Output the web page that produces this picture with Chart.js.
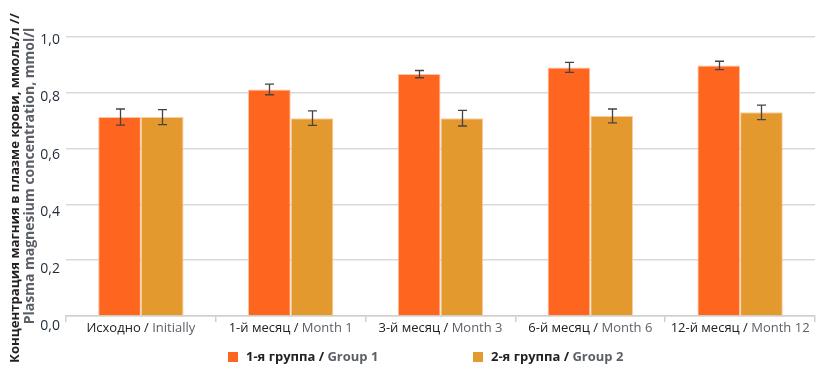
<!DOCTYPE html>
<html><head><meta charset="utf-8">
<script src="https://cdn.jsdelivr.net/npm/chart.js@4.4.1/dist/chart.umd.min.js"></script>
<style>html,body{margin:0;padding:0;background:#fff}#wrap{width:829px;height:378px;position:relative}</style>
</head><body><div id="wrap"><canvas id="c" width="829" height="378"></canvas></div>
<script>
const categoriesRu = ['Исходно', '1-й месяц', '3-й месяц', '6-й месяц', '12-й месяц'];
const categoriesEn = ['Initially', 'Month 1', 'Month 3', 'Month 6', 'Month 12'];
const group1 = [0.713, 0.812, 0.867, 0.891, 0.898];
const group1Err = [0.029, 0.019, 0.013, 0.018, 0.015];
const group2 = [0.713, 0.709, 0.709, 0.717, 0.730];
const group2Err = [0.027, 0.026, 0.028, 0.025, 0.026];
const yTicks = [0, 0.2, 0.4, 0.6, 0.8, 1.0];
const seriesRu = ['1-я группа', '2-я группа'];
const seriesEn = ['Group 1', 'Group 2'];
const yTitleRu = 'Концентрация магния в плазме крови, ммоль/л //';
const yTitleEn = 'Plasma magnesium concentration, mmol/l';

const C1 = '#FE6620', C2 = '#E4992E', DARK = '#222', GRAY = '#5b5f66', TICK = '#1e2a38';
const FONT = '"Open Sans", "Noto Sans", sans-serif';

const errs = [group1Err, group2Err];

function fitFont(ctx, text, weight, target) {
  ctx.font = weight + ' 13px ' + FONT;
  const w = ctx.measureText(text).width;
  ctx.font = weight + ' ' + (13 * target / w).toFixed(2) + 'px ' + FONT;
}

const customDraw = {
  id: 'customDraw',
  afterDatasetsDraw(chart) {
    const ctx = chart.ctx, y = chart.scales.y;
    ctx.save();
    ctx.strokeStyle = '#444'; ctx.lineWidth = 1.3;
    chart.data.datasets.forEach((ds, di) => {
      const meta = chart.getDatasetMeta(di);
      meta.data.forEach((bar, i) => {
        const v = ds.data[i], e = errs[di][i];
        const x = Math.round(bar.x) + 0.5;
        const yt = y.getPixelForValue(v + e), yb = y.getPixelForValue(v - e);
        ctx.beginPath();
        ctx.moveTo(x, yt); ctx.lineTo(x, yb);
        ctx.moveTo(x - 4.5, yt); ctx.lineTo(x + 4.5, yt);
        ctx.moveTo(x - 4.5, yb); ctx.lineTo(x + 4.5, yb);
        ctx.stroke();
      });
    });
    ctx.restore();
  },
  afterDraw(chart) {
    const ctx = chart.ctx, xs = chart.scales.x, ys = chart.scales.y, ca = chart.chartArea;
    ctx.save();
    ctx.textBaseline = 'middle';
    // y tick labels (printed slightly below their gridlines, as in the source)
    ctx.font = '14px ' + FONT;
    ctx.fillStyle = TICK;
    ctx.textAlign = 'right';
    yTicks.forEach(v => {
      const py = ys.getPixelForValue(v) + 3 + (1 - v) * 7.5;
      ctx.fillText(v.toFixed(1).replace('.', ','), 60, py);
    });
    // x labels
    ctx.font = '13px ' + FONT;
    ctx.textAlign = 'left';
    categoriesRu.forEach((ru, i) => {
      const a = ru + ' / ', b = categoriesEn[i];
      const wa = ctx.measureText(a).width, wb = ctx.measureText(b).width;
      const cx = xs.getPixelForValue(i);
      const x0 = cx - (wa + wb) / 2;
      ctx.fillStyle = DARK; ctx.fillText(a, x0, ca.bottom + 12);
      ctx.fillStyle = GRAY; ctx.fillText(b, x0 + wa, ca.bottom + 12);
    });
    // legend
    ctx.font = 'bold 13px ' + FONT;
    const legX = [228, 473], colors = [C1, C2];
    legX.forEach((lx, i) => {
      ctx.fillStyle = colors[i];
      ctx.fillRect(lx, 352, 10, 10);
      const a = seriesRu[i] + ' / ';
      ctx.fillStyle = DARK; ctx.fillText(a, lx + 18, 357);
      ctx.fillStyle = GRAY; ctx.fillText(seriesEn[i], lx + 18 + ctx.measureText(a).width, 357);
    });
    // y title, two lines
    ctx.textAlign = 'center';
    ctx.save();
    ctx.translate(15, 188);
    ctx.rotate(-Math.PI / 2);
    fitFont(ctx, yTitleRu, 'bold', 350);
    ctx.fillStyle = DARK; ctx.fillText(yTitleRu, 0, 0);
    ctx.restore();
    ctx.save();
    ctx.translate(30, 176);
    ctx.rotate(-Math.PI / 2);
    fitFont(ctx, yTitleEn, 'bold', 297);
    ctx.fillStyle = GRAY; ctx.fillText(yTitleEn, 0, 0);
    ctx.restore();
    ctx.restore();
  }
};

new Chart(document.getElementById('c'), {
  type: 'bar',
  data: {
    labels: categoriesRu.map((r, i) => r + ' / ' + categoriesEn[i]),
    datasets: [
      { label: seriesRu[0] + ' / ' + seriesEn[0], data: group1, backgroundColor: C1, borderColor: 'rgba(255,190,150,0.9)', borderWidth: 1 },
      { label: seriesRu[1] + ' / ' + seriesEn[1], data: group2, backgroundColor: C2, borderColor: 'rgba(250,200,150,0.9)', borderWidth: 1 }
    ]
  },
  options: {
    responsive: false,
    animation: false,
    categoryPercentage: 0.57,
    barPercentage: 1,
    layout: { padding: { top: 37, right: 14, left: 0, bottom: 0 } },
    plugins: { legend: { display: false }, tooltip: { enabled: false } },
    scales: {
      x: {
        offset: true,
        grid: { display: true, drawOnChartArea: false, tickLength: 6, color: '#cfcfcf', lineWidth: 1.5 },
        border: { color: '#cfcfcf', width: 1.5 },
        ticks: { display: false },
        afterFit(s) { s.height = 62; }
      },
      y: {
        min: 0, max: 1,
        afterBuildTicks(s) { s.ticks = yTicks.map(v => ({ value: v })); },
        ticks: { display: false },
        grid: { color: '#d9d9d9', lineWidth: 1.5, drawTicks: false },
        border: { display: false },
        afterFit(s) { s.width = 66; }
      }
    }
  },
  plugins: [customDraw]
});
</script></body></html>
